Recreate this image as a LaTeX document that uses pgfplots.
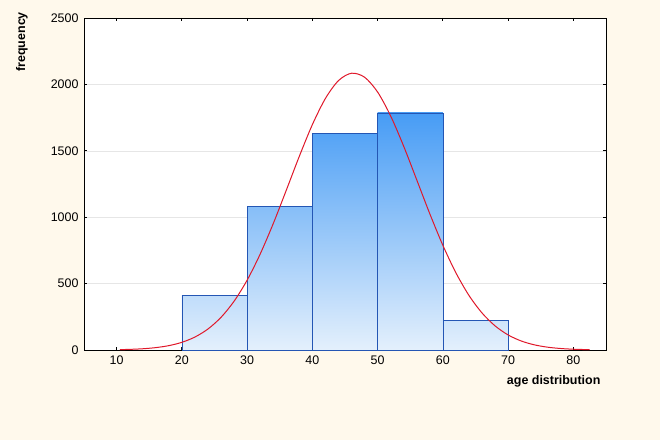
\documentclass[border=0pt]{standalone}
\usepackage{fontspec}
\setmainfont{Liberation Sans}
\usepackage{pgfplots}
\pgfplotsset{compat=1.18}
\definecolor{bgcream}{HTML}{FFF9EC}
\definecolor{bardark}{HTML}{479CF5}
\definecolor{barlight}{HTML}{E4F0FC}
\definecolor{baredge}{HTML}{2456B4}
\definecolor{curvered}{HTML}{E0182A}
\definecolor{gridgray}{HTML}{E6E6E6}
\begin{document}
\begin{tikzpicture}[x=1bp,y=1bp]
\useasboundingbox (0,0) rectangle (660,440);
\fill[bgcream] (0,0) rectangle (660,440);
\begin{axis}[
  at={(84bp,90bp)}, anchor=south west,
  scale only axis, width=522bp, height=332bp,
  xmin=5, xmax=85, ymin=0, ymax=2500,
  xtick={10,20,...,80}, ytick={0,500,...,2500},
  tick align=inside, major tick length=3bp,
  tick style={black, line width=0.8pt},
  ymajorgrids, grid style={gridgray, line width=0.4pt},
  axis line style={black, line width=0.9pt},
  axis background/.style={fill=white},
  tick label style={font=\fontsize{12.5}{15}\selectfont},
  /pgf/number format/assume math mode=true,
  /pgf/number format/1000 sep={},
  xticklabel style={yshift=-2bp},
  yticklabel style={xshift=-2bp},
  ylabel={frequency},
  ylabel style={at={(axis description cs:-0.119,0.928)}, anchor=center, rotate=0, font=\bfseries\fontsize{12.5}{14}\selectfont},
  xlabel={age distribution},
  xlabel style={at={(axis description cs:0.996,-0.093)}, anchor=east, font=\bfseries\fontsize{12.5}{14}\selectfont},
  clip=false,
]
\addplot[draw=baredge, line width=0.7pt, top color=bardark!23!barlight, bottom color=barlight]
  coordinates {(20,0) (20,410) (30,410) (30,0)} -- cycle;
\addplot[draw=baredge, line width=0.7pt, top color=bardark!60!barlight, bottom color=barlight]
  coordinates {(30,0) (30,1080) (40,1080) (40,0)} -- cycle;
\addplot[draw=baredge, line width=0.7pt, top color=bardark!91!barlight, bottom color=barlight]
  coordinates {(40,0) (40,1630) (50,1630) (50,0)} -- cycle;
\addplot[draw=baredge, line width=0.7pt, top color=bardark, bottom color=barlight]
  coordinates {(50,0) (50,1785) (60,1785) (60,0)} -- cycle;
\addplot[draw=baredge, line width=0.7pt, top color=bardark!13!barlight, bottom color=barlight]
  coordinates {(60,0) (60,225) (70,225) (70,0)} -- cycle;
\addplot[curvered, line width=1pt, smooth, mark=none] coordinates {
(10.5,2.7) (12,4.7) (14,9.3) (16,17.9) (18,32.8) (20,57.7) (22,97.6) (24,158.1)
(26,246.0) (28,367.2) (30,525.8) (32,722.3) (34,951.4) (36,1202.8) (38,1458.7)
(40,1697.2) (42,1894.4) (44,2028.5) (46,2084.0) (48,2054.0) (50,1942.2)
(52,1761.6) (54,1533.3) (56,1280.2) (58,1025.4) (60,787.9) (62,580.9)
(64,410.7) (66,278.8) (68,181.5) (70,113.3) (72,67.9) (74,39.0) (76,21.5)
(78,11.4) (80,5.8) (82.5,2.3)
};
\end{axis}
\end{tikzpicture}
\end{document}
